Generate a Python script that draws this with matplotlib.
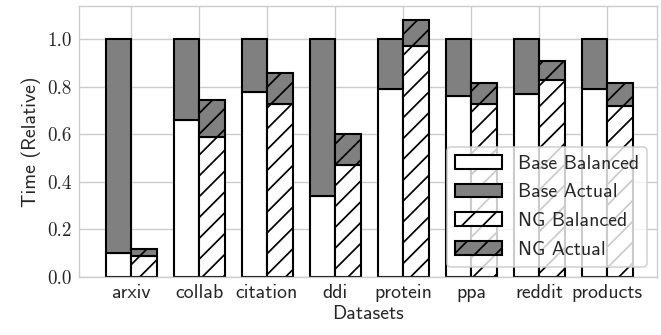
import matplotlib
matplotlib.use("Agg")
import matplotlib.pyplot as plt
import seaborn as sns
import numpy as np

# data (time relative to base)
datasets = ["arxiv", "collab", "citation", "ddi", "protein", "ppa", "reddit", "products"]
base_balanced = [0.10, 0.66, 0.78, 0.34, 0.79, 0.76, 0.77, 0.79]
base_actual = [1.0, 1.0, 1.0, 1.0, 1.0, 1.0, 1.0, 1.0]
ng_balanced = [0.09, 0.59, 0.73, 0.47, 0.97, 0.73, 0.83, 0.72]
ng_actual = [0.12, 0.745, 0.86, 0.60, 1.08, 0.815, 0.91, 0.815]
yticks = [0.0, 0.2, 0.4, 0.6, 0.8, 1.0]

sns.set_style("whitegrid")
plt.rcParams["font.family"] = ["cmss10", "DejaVu Sans"]
plt.rcParams["axes.unicode_minus"] = False
plt.rcParams["hatch.linewidth"] = 1.0

DPI = 125
fig = plt.figure(figsize=(661 / DPI, 335 / DPI), dpi=DPI)
ax = fig.add_axes([0.1195, 0.173, 0.8745, 0.809])

x = np.arange(len(datasets))
w = 0.375
gray = "#808080"
lw = 1.2
fs = 11.4

bb = np.array(base_balanced)
ba = np.array(base_actual)
nb = np.array(ng_balanced)
na = np.array(ng_actual)

ax.bar(x - w / 2, bb, w, color="white", edgecolor="black", linewidth=lw, label="Base Balanced")
ax.bar(x - w / 2, ba - bb, w, bottom=bb, color=gray, edgecolor="black", linewidth=lw, label="Base Actual")
ax.bar(x + w / 2, nb, w, color="white", edgecolor="black", linewidth=lw, hatch="//", label="NG Balanced")
ax.bar(x + w / 2, na - nb, w, bottom=nb, color=gray, edgecolor="black", linewidth=lw, hatch="//", label="NG Actual")

ax.set_xticks(x)
ax.set_xticklabels(datasets, fontsize=fs)
ax.set_yticks(yticks)
ax.set_yticklabels([f"{v:.1f}" for v in yticks], fontsize=11, family="cmr10")
ax.set_ylim(0, 1.14)
ax.set_xlim(-0.765, 7.735)
ax.tick_params(axis="both", length=0, pad=4)
ax.set_xlabel("Datasets", fontsize=fs, labelpad=2)
ax.set_ylabel("Time (Relative)", fontsize=fs)
ax.set_axisbelow(True)

ax.legend(loc="lower right", fontsize=fs, framealpha=0.8, handlelength=2.4,
          labelspacing=0.55)

fig.savefig("out.png", dpi=DPI)
